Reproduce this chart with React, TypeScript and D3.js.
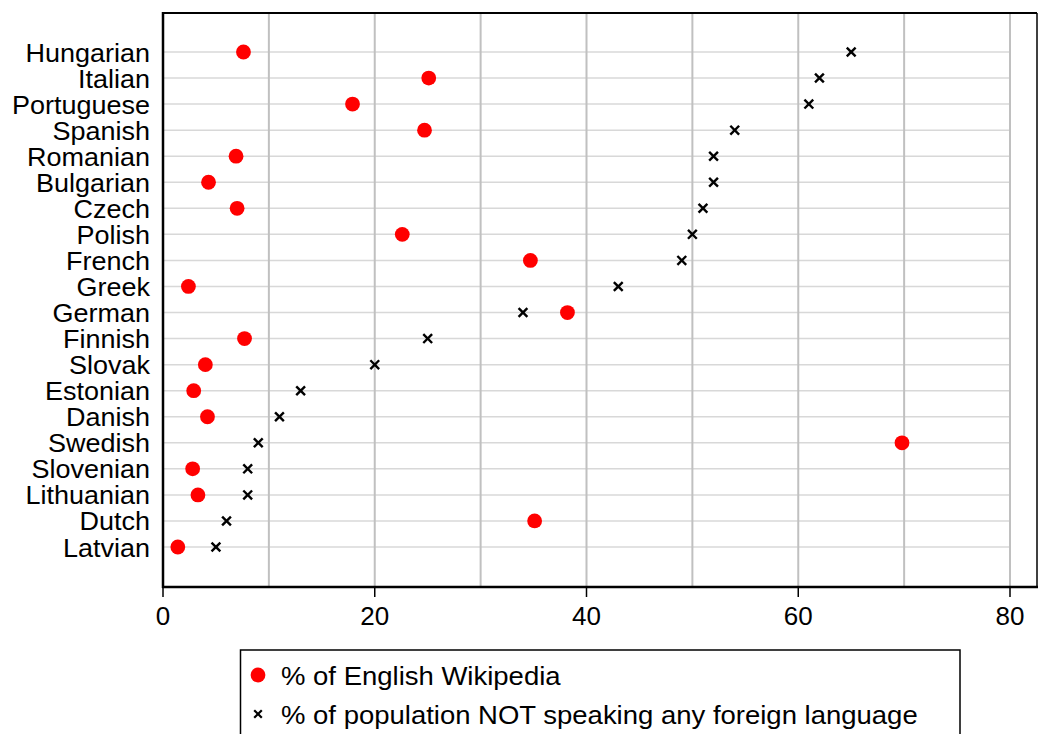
import React from "react";
import * as d3 from "d3";

const languages = [
  "Hungarian", "Italian", "Portuguese", "Spanish", "Romanian", "Bulgarian", "Czech",
  "Polish", "French", "Greek", "German", "Finnish", "Slovak", "Estonian", "Danish",
  "Swedish", "Slovenian", "Lithuanian", "Dutch", "Latvian",
];
const englishWikipedia = [
  7.6, 25.1, 17.9, 24.7, 6.9, 4.3, 7.0, 22.6, 34.7, 2.4, 38.2, 7.7, 4.0, 2.9, 4.2,
  69.8, 2.8, 3.3, 35.1, 1.4,
];
const notSpeakingForeign = [
  65, 62, 61, 54, 52, 52, 51, 50, 49, 43, 34, 25, 20, 13, 11, 9, 8, 8, 6, 5,
];
const xTicks = [0, 20, 40, 60, 80];
const xGrid = [10, 20, 30, 40, 50, 60, 70, 80];
const legendLabels = [
  "% of English Wikipedia",
  "% of population NOT speaking any foreign language",
];

const W = 1039;
const H = 734;
const left = 163;
const right = 1037;
const top = 13;
const bottom = 587;
const FONT = "'Liberation Sans', Arial, Helvetica, sans-serif";
const SX = 1.08;

export default function App() {
  const x = d3.scaleLinear().domain([0, 80]).range([left, 1010]);
  const y = d3
    .scalePoint<string>()
    .domain(languages)
    .range([top + 39, bottom - 40]);

  const cross = (cx: number, cy: number, s: number, key: string, sw = 2.4) => (
    <g key={key} stroke="#000" strokeWidth={sw} strokeLinecap="butt">
      <line x1={cx - s} y1={cy - s} x2={cx + s} y2={cy + s} />
      <line x1={cx - s} y1={cy + s} x2={cx + s} y2={cy - s} />
    </g>
  );

  const label = (
    tx: number,
    ty: number,
    str: string | number,
    key: string,
    anchor: "start" | "middle" | "end",
    sx = SX
  ) => (
    <text
      key={key}
      transform={`translate(${tx},${ty}) scale(${sx},1)`}
      textAnchor={anchor}
      fontSize={25}
      fill="#000"
    >
      {str}
    </text>
  );

  return (
    <svg
      width={W}
      height={H}
      style={{ position: "absolute", left: 0, top: 0, background: "#fff" }}
      fontFamily={FONT}
    >
      <rect x={0} y={0} width={W} height={H} fill="#fff" />
      {/* horizontal grid */}
      {languages.map((l) => (
        <line
          key={"h" + l}
          x1={x(0)}
          x2={x(80)}
          y1={y(l)}
          y2={y(l)}
          stroke="#d8d8d8"
          strokeWidth={1.5}
        />
      ))}
      {/* vertical grid */}
      {xGrid.map((v) => (
        <line
          key={"v" + v}
          x1={x(v)}
          x2={x(v)}
          y1={top}
          y2={bottom}
          stroke="#c0c0c0"
          strokeWidth={2}
        />
      ))}
      {/* frame */}
      <line x1={left} x2={right} y1={top} y2={top} stroke="#000" strokeWidth={2} />
      <line x1={right} x2={right} y1={top} y2={bottom} stroke="#000" strokeWidth={1.5} />
      <line x1={left} x2={left} y1={top - 1} y2={bottom + 1} stroke="#000" strokeWidth={2.5} />
      <line x1={left - 1} x2={right + 1} y1={bottom} y2={bottom} stroke="#000" strokeWidth={2.5} />
      {/* x ticks */}
      {xTicks.map((v) => (
        <g key={"t" + v}>
          <line x1={x(v)} x2={x(v)} y1={bottom} y2={bottom + 10} stroke="#000" strokeWidth={1.5} />
          {label(x(v), bottom + 38, v, "tl" + v, "middle", 1.04)}
        </g>
      ))}
      {/* y labels */}
      {languages.map((l) => label(150, (y(l) as number) + 9.5, l, "l" + l, "end"))}
      {/* crosses */}
      {languages.map((l, i) =>
        cross(x(notSpeakingForeign[i]), y(l) as number, 4.4, "c" + l)
      )}
      {/* dots */}
      {languages.map((l, i) => (
        <circle
          key={"d" + l}
          cx={x(englishWikipedia[i])}
          cy={y(l)}
          r={7.4}
          fill="#ff0000"
        />
      ))}
      {/* legend */}
      <rect x={240.5} y={650} width={719.5} height={100} fill="#fff" stroke="#000" strokeWidth={1.5} />
      <circle cx={258} cy={675} r={7.4} fill="#ff0000" />
      {label(281, 684.5, legendLabels[0], "lg0", "start", 1.1)}
      {cross(258, 714, 3.8, "lc", 2.2)}
      {label(281, 723.5, legendLabels[1], "lg1", "start", 1.1)}
    </svg>
  );
}
